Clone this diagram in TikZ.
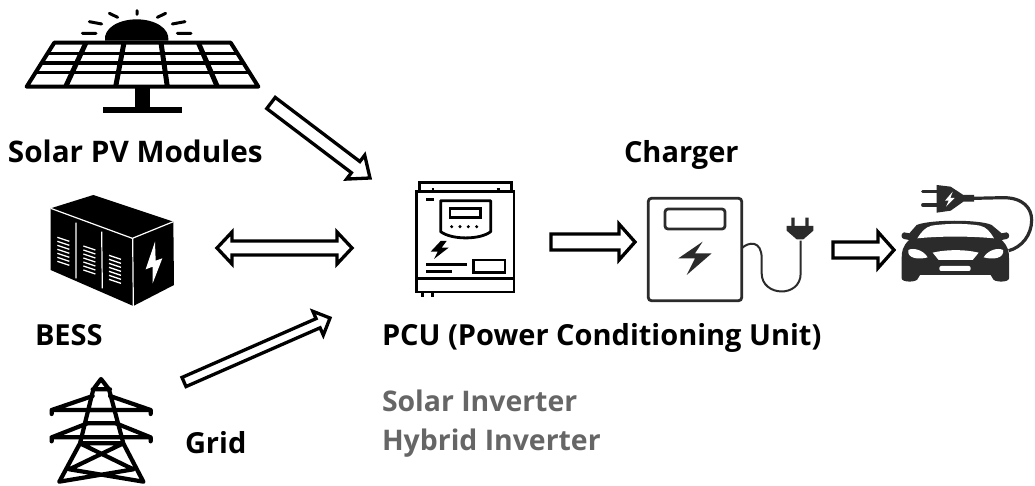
\documentclass[tikz,border=0pt]{standalone}
\usepackage{fontspec}
\setmainfont{Open Sans}
\usetikzlibrary{calc}
\definecolor{soft}{HTML}{2B2B2B}
\definecolor{grayt}{HTML}{666666}
\tikzset{
  blockline/.style={draw=black,line width=3.3pt,fill=white,miter limit=10,line join=miter},
  lab/.style={anchor=base west,inner sep=0pt,outer sep=0pt,font=\fontsize{29}{34}\selectfont\bfseries,text=black},
  sublab/.style={lab,font=\fontsize{28.4}{34}\selectfont\bfseries,text=grayt},
  zoomed/.style={x=0.33333pt,y=-0.33333pt},
  ic/.style={line width=#1,draw=black,line cap=round,line join=round},
  ic/.default=2.3pt
}
\newcommand\blockarrow[5]{%
  \coordinate (hh) at ($(#2)!#5!(#1)$);
  \draw[blockline] ($(#1)!#3!90:(#2)$) -- ($(hh)!#3!90:(#2)$) -- ($(hh)!#4!90:(#2)$) -- (#2) -- ($(hh)!#4!-90:(#2)$) -- ($(hh)!#3!-90:(#2)$) -- ($(#1)!#3!-90:(#2)$) -- cycle;}
\newcommand\twowayarrow[5]{%
  \coordinate (hh) at ($(#2)!#5!(#1)$);
  \coordinate (gg) at ($(#1)!#5!(#2)$);
  \draw[blockline] (#1) -- ($(gg)!#4!90:(#2)$) -- ($(gg)!#3!90:(#2)$) -- ($(hh)!#3!90:(#2)$) -- ($(hh)!#4!90:(#2)$) -- (#2) -- ($(hh)!#4!-90:(#2)$) -- ($(hh)!#3!-90:(#2)$) -- ($(gg)!#3!-90:(#2)$) -- ($(gg)!#4!-90:(#2)$) -- cycle;}
\begin{document}
\begin{tikzpicture}[x=1pt,y=-1pt]
\useasboundingbox (0,0) rectangle (1035,486);
\fill[white] (0,0) rectangle (1035,486);

% --- solar panel (reference crop origin 0,0)
\begin{scope}[zoomed]
  \fill (315,122) .. controls (310,85) and (355,58) .. (410,58) .. controls (465,58) and (510,85) .. (505,122) -- cycle;
  \draw[ic=4pt,line join=round] (163,128) -- (692,128) -- (775,260) -- (80,260) -- cycle;
  \draw[ic=3.4pt] (147,160) -- (708,160) (130,189) -- (725,189) (112,218) -- (745,218);
  \draw[ic=5pt,line cap=butt] (258,128) -- (197,260) (372,128) -- (347,260) (483,128) -- (502,260) (595,128) -- (652,260);
  \fill (405,262) rectangle (450,322);
  \fill (308,320) rectangle (547,338);
  \draw[ic=3pt] (247,100) -- (288,100) (268,65) -- (305,72) (328,40) -- (353,52) (411,32) -- (411,43) (472,52) -- (497,40) (517,72) -- (555,65) (532,100) -- (573,100);
\end{scope}

% --- BESS (crop origin 30,180)
\begin{scope}[zoomed,xshift=30pt,yshift=-180pt]
  \fill (62,85) -- (190,45) -- (430,125) -- (432,315) -- (310,378) -- (62,270) -- cycle;
  \draw[white,line width=1.2pt] (62,85) -- (307,175) -- (430,125) (308,175) -- (310,378) (138,128) -- (138,295) (215,155) -- (217,325);
  \foreach \k in {0,1,2,3,4,5,6}{
    \draw[white,line width=1.3pt] (82,{172+\k*12}) -- (118,{184+\k*12});
    \draw[white,line width=1.3pt] (160,{198+\k*12}) -- (196,{210+\k*12});
    \draw[white,line width=1.3pt] (237,{226+\k*12}) -- (273,{238+\k*12});
  }
  \fill[white] (375,185) -- (347,268) -- (368,260) -- (368,310) -- (397,235) -- (377,242) -- cycle;
\end{scope}

% --- grid tower (crop origin 30,180)
\begin{scope}[zoomed,xshift=30pt,yshift=-180pt]
  \draw[ic=4.2pt] (190,628) -- (213,597) -- (237,628) (190,628) -- (150,790) -- (88,905) (237,628) -- (280,790) -- (340,905)
    (188,628) -- (240,628) (175,690) -- (252,690) (168,730) -- (262,730) (150,790) -- (280,790)
    (150,790) -- (310,868) (280,790) -- (118,868) (118,868) -- (340,905) (310,868) -- (88,905);
  \draw[ic=4.2pt] (65,690) -- (362,690) (65,690) -- (188,648) (362,690) -- (240,648)
    (65,772) -- (362,772) (65,772) -- (172,730) (362,772) -- (258,730)
    (65,690) -- (65,702) (362,690) -- (362,702) (65,772) -- (65,784) (362,772) -- (362,784);
\end{scope}

% --- PCU (crop origin 390,170)
\begin{scope}[zoomed,xshift=390pt,yshift=-170pt]
  \draw[ic=2.6pt,line cap=butt,line join=miter] (88,65) -- (88,38) -- (365,38) -- (365,65);
  \draw[ic=2.8pt,line cap=butt,line join=miter] (80,65) rectangle (372,366);
  \draw[ic=2.8pt,line cap=butt] (80,325) -- (372,325) (108,88) -- (132,88) (108,283) -- (232,283) (108,305) -- (185,305);
  \draw[ic=2.4pt,line cap=butt] (125,58) -- (133,58) (320,58) -- (330,58) (97,366) -- (97,380) (127,366) -- (127,380);
  \draw[ic=2.8pt] (152,92) -- (302,92) -- (302,185) .. controls (270,210) and (185,210) .. (152,185) -- cycle;
  \draw[ic=2.6pt,line join=miter] (180,115) rectangle (272,143);
  \foreach \p in {185,210,235,260}{\fill (\p,170) circle (1.7pt);}
  \fill (152,213) -- (122,245) -- (143,245) -- (132,267) -- (176,233) -- (155,233) -- (170,213) -- cycle;
  \draw[ic=2.8pt,line join=miter] (250,270) rectangle (345,307);
\end{scope}

% --- charger (crop origin 630,170)
\begin{scope}[zoomed,xshift=630pt,yshift=-170pt]
  \draw[draw=soft,line width=2.8pt,rounded corners=3pt] (55,85) rectangle (335,392);
  \draw[draw=soft,line width=2.8pt,rounded corners=3pt] (105,117) rectangle (285,177);
  \fill[soft] (218,215) -- (145,265) -- (195,265) -- (170,315) -- (245,250) -- (195,250) -- cycle;
  \draw[draw=soft,line width=2pt] (335,235) .. controls (355,215) and (395,210) .. (395,265) -- (395,310) .. controls (395,380) and (512,385) .. (512,310) -- (512,212);
  \fill[soft] (470,168) -- (550,168) -- (550,182) -- (520,208) -- (500,208) -- (470,182) -- cycle;
  \fill[soft] (484,143) rectangle (494,170) (526,143) rectangle (536,170);
\end{scope}

% --- car and plug (crop origin 630,170)
\begin{scope}[zoomed,xshift=630pt,yshift=-170pt]
  \fill[soft] (860,165) .. controls (900,148) and (1050,148) .. (1085,165) -- (1115,190) -- (1130,187) .. controls (1140,190) and (1140,205) .. (1130,207) -- (1115,210) .. controls (1135,230) and (1137,245) .. (1137,265) -- (1137,325) .. controls (1137,338) and (1090,338) .. (1088,325) -- (1082,315) -- (870,315) -- (864,325) .. controls (862,338) and (815,338) .. (815,325) -- (815,265) .. controls (815,245) and (817,230) .. (837,210) -- (822,207) .. controls (812,205) and (812,190) .. (822,187) -- (838,190) -- cycle;
  \fill[white] (862,205) .. controls (875,185) and (885,172) .. (905,167) .. controls (950,160) and (1010,160) .. (1050,167) .. controls (1070,172) and (1080,185) .. (1092,205) .. controls (1020,198) and (930,198) .. (862,205) -- cycle;
  \fill[white] (835,240) .. controls (850,232) and (880,240) .. (893,262) .. controls (865,270) and (830,265) .. (835,240) -- cycle;
  \fill[white] (1119,240) .. controls (1104,232) and (1074,240) .. (1061,262) .. controls (1089,270) and (1124,265) .. (1119,240) -- cycle;
  \fill[white] (908,248) .. controls (950,238) and (1005,238) .. (1046,248) -- (1028,270) -- (926,270) -- cycle;
  \fill[white,rounded corners=2pt] (928,288) rectangle (1022,303);
  \fill[soft] (920,45) -- (962,50) -- (1000,75) -- (1032,75) -- (1032,95) -- (1000,95) -- (962,122) -- (920,128) -- cycle;
  \draw[draw=soft,line width=3.2pt,line cap=round] (878,65) -- (925,65) (878,105) -- (925,105);
  \draw[draw=soft,line width=3.2pt] (1030,85) -- (1120,83) .. controls (1180,83) and (1205,115) .. (1205,150) .. controls (1205,195) and (1175,232) .. (1136,242);
  \fill[white] (968,65) -- (945,92) -- (956,92) -- (948,110) -- (974,84) -- (961,84) -- cycle;
\end{scope}

% --- connector ends
\coordinate (solarOut) at (271,103);
\coordinate (pcuNW) at (370,178);
\coordinate (bessPort) at (217,248);
\coordinate (pcuW) at (352,248);
\coordinate (gridOut) at (184,382);
\coordinate (pcuSW) at (330,318);
\coordinate (pcuE) at (551,242);
\coordinate (chargerW) at (635,242);
\coordinate (chargerE) at (833,250);
\coordinate (carW) at (894,250);

\blockarrow{solarOut}{pcuNW}{7pt}{15pt}{18pt}
\twowayarrow{bessPort}{pcuW}{7pt}{16pt}{15pt}
\blockarrow{gridOut}{pcuSW}{5pt}{13pt}{13pt}
\blockarrow{pcuE}{chargerW}{8pt}{18pt}{16pt}
\blockarrow{chargerE}{carW}{8pt}{18pt}{16pt}

% --- labels
\node[lab,font=\fontsize{29.7}{34}\selectfont\bfseries] (tSolar) at (8,163) {Solar PV Modules};
\node[lab] (tCharger) at (624,163) {Charger};
\node[lab] (tBess) at (35,345) {BESS};
\node[lab] (tGrid) at (185,453) {Grid};
\node[lab] (tPcu) at (382,345) {PCU (Power Conditioning Unit)};
\node[sublab] (tSolarInv) at (382,411) {Solar Inverter};
\node[sublab] (tHybrid) at (382,450) {Hybrid Inverter};
\end{tikzpicture}
\end{document}
